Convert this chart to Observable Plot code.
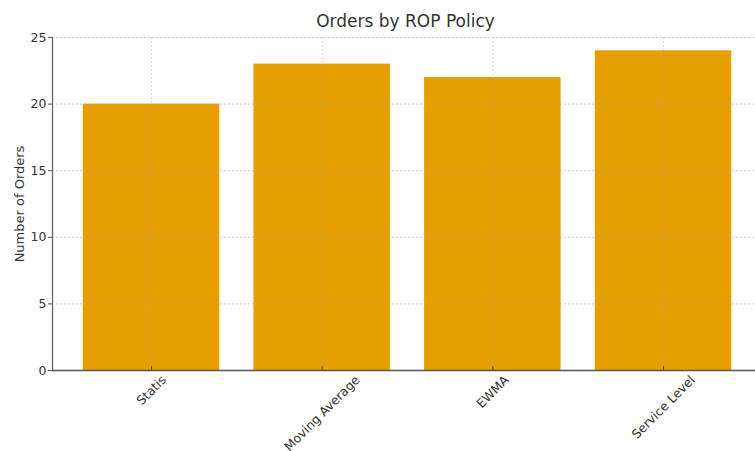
<!DOCTYPE html>
<html><head><meta charset="utf-8">
<script src="https://cdn.jsdelivr.net/npm/d3@7"></script>
<script src="https://cdn.jsdelivr.net/npm/@observablehq/plot@0.6"></script>
<style>
html,body{margin:0;padding:0;overflow:hidden;background:#fff;}
</style></head>
<body><div id="chart"></div>
<script>
const categories = ["Statis", "Moving Average", "EWMA", "Service Level"];
const orders = [20, 23, 22, 24];
const yTicks = [0, 5, 10, 15, 20, 25];
const title = "Orders by ROP Policy";
const yLabel = "Number of Orders";

const data = categories.map((c, i) => ({policy: c, orders: orders[i]}));
const font = "DejaVu Sans, sans-serif";
const tickFs = 12.5;

const ctx = document.createElement("canvas").getContext("2d");
ctx.font = `${tickFs}px DejaVu Sans`;
const xLabelMarks = categories.map(c => {
  const L = ctx.measureText(c).width;
  return Plot.text([c], {
    x: d => d, frameAnchor: "bottom", dy: 3 + (L + tickFs) * 0.3536,
    rotate: -45, textAnchor: "middle", lineAnchor: "middle",
    fontSize: tickFs, fill: "#333", text: d => d
  });
});

const chart = Plot.plot({
  width: 762, height: 451,
  marginLeft: 52, marginRight: 0, marginTop: 37, marginBottom: 81,
  style: {fontFamily: font, background: "#fff", maxWidth: "none"},
  x: {domain: categories, paddingInner: 0.2, paddingOuter: 0.18, round: false, axis: null},
  y: {domain: [0, 25], axis: null},
  marks: [
    Plot.barY(data, {x: "policy", y: "orders", fill: "#e5a000"}),
    Plot.gridY(yTicks, {stroke: "#aaa", strokeOpacity: 0.6, strokeDasharray: "2,2"}),
    Plot.gridX(categories, {stroke: "#aaa", strokeOpacity: 0.5, strokeDasharray: "2,2"}),
    Plot.axisY(yTicks, {tickSize: 4, tickPadding: 2, fontSize: tickFs, fill: "#333", stroke: "#555", label: null}),
    Plot.ruleX(categories, {x: d => d, y1: 0, y2: 0, insetTop: -4, stroke: "#444"}),
    Plot.frame({anchor: "left", stroke: "#666", strokeWidth: 1.3}),
    Plot.ruleY([0], {stroke: "#555", strokeWidth: 1.3}),
    ...xLabelMarks,
    Plot.text([yLabel], {frameAnchor: "left", dx: -33, rotate: -90, textAnchor: "middle", lineAnchor: "middle", fontSize: 13, fill: "#333", text: d => d}),
    Plot.text([title], {frameAnchor: "top", dy: -16, dx: -2, lineAnchor: "middle", fontSize: 17, fill: "#333", text: d => d})
  ]
});
document.getElementById("chart").append(chart);
</script></body></html>
